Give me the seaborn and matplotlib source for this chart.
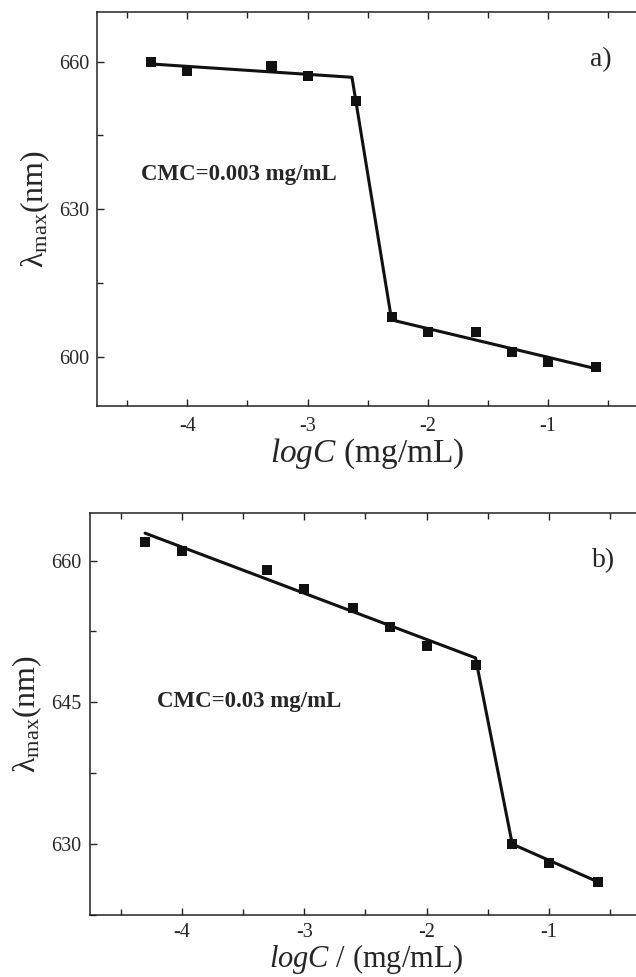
import seaborn
import pandas
import matplotlib
matplotlib.use('Agg')
import matplotlib.pyplot as pyplt
from matplotlib.ticker import MultipleLocator

# measured points (log10 of concentration in mg/mL)
log_c = [-4.30, -4.00, -3.30, -3.00, -2.60, -2.30, -2.00, -1.60, -1.30, -1.00, -0.60]
lambda_a = [660.0, 658.0, 659.0, 657.0, 652.0, 608.0, 605.0, 605.0, 601.0, 599.0, 598.0]
lambda_b = [662.0, 661.0, 659.0, 657.0, 655.0, 653.0, 651.0, 649.0, 630.0, 628.0, 626.0]

# fitted broken lines (knots)
fit_x_a = [-4.30, -2.63, -2.30, -0.60]
fit_y_a = [659.5, 656.8, 607.5, 597.6]
fit_x_b = [-4.30, -1.60, -1.30, -0.60]
fit_y_b = [662.9, 649.7, 630.0, 626.0]

panels = [
    dict(y=lambda_a, fx=fit_x_a, fy=fit_y_a, ylim=(590, 670), major=30, minor=15,
         tag='a)', tag_y=660.3, cmc='CMC=0.003 mg/mL', cmc_xy=(-4.385, 637.0),
         xlabel=r'$\mathit{logC}$ (mg/mL)', xl_size=24, xl_pad=0, x_pad=8,
         pos=[0.1531, 0.5844, 0.8497, 0.4030]),
    dict(y=lambda_b, fx=fit_x_b, fy=fit_y_b, ylim=(622.5, 665), major=15, minor=7.5,
         tag='b)', tag_y=660.0, cmc='CMC=0.03 mg/mL', cmc_xy=(-4.20, 645.1),
         xlabel=r'$\mathit{logC}$ / (mg/mL)', xl_size=22, xl_pad=0, x_pad=6,
         pos=[0.1415, 0.0635, 0.8660, 0.4111]),
]

seaborn.set_theme(style='ticks')
pyplt.rcParams['font.family'] = ['Liberation Serif', 'DejaVu Serif']
pyplt.rcParams['mathtext.fontset'] = 'custom'
pyplt.rcParams['mathtext.rm'] = 'Liberation Serif'
pyplt.rcParams['mathtext.it'] = 'Liberation Serif:italic'
pyplt.rcParams['mathtext.bf'] = 'Liberation Serif:bold'

fig = pyplt.figure(figsize=(6.36, 9.77), dpi=100)

for p in panels:
    ax = fig.add_axes(p['pos'])
    data = pandas.DataFrame({'logC': log_c, 'lam': p['y']})
    fit = pandas.DataFrame({'logC': p['fx'], 'lam': p['fy']})
    seaborn.lineplot(x='logC', y='lam', data=fit, sort=False, color='#111111',
                     linewidth=2.2, ax=ax, zorder=2)
    seaborn.scatterplot(x='logC', y='lam', data=data, marker='s', s=52,
                        color='#111111', edgecolor='none', ax=ax, zorder=3)
    ax.set_xlim(-4.75, -0.25)
    ax.set_ylim(*p['ylim'])
    ax.xaxis.set_major_locator(MultipleLocator(1))
    ax.xaxis.set_minor_locator(MultipleLocator(0.5))
    ax.yaxis.set_major_locator(MultipleLocator(p['major']))
    ax.yaxis.set_minor_locator(MultipleLocator(p['minor']))
    ax.xaxis.set_major_formatter(matplotlib.ticker.FuncFormatter(lambda v, _: f'{v:.0f}'))
    ax.tick_params(which='both', direction='in', top=True, right=False,
                   labelsize=14.5, width=1, color='#222222')
    ax.tick_params(which='major', length=5)
    ax.tick_params(which='minor', length=4.5)
    ax.tick_params(axis='x', pad=p['x_pad'])
    ax.tick_params(axis='y', pad=6)
    for s in ax.spines.values():
        s.set_linewidth(1.1)
        s.set_color('#222222')
    ax.set_xlabel(p['xlabel'], fontsize=p['xl_size'], labelpad=p['xl_pad'])
    ax.set_ylabel(r'$\mathrm{\lambda}_{\mathrm{max}}$(nm)', fontsize=23, labelpad=5)
    ax.text(-0.645, p['tag_y'], p['tag'], fontsize=20, va='center', ha='left')
    ax.text(p['cmc_xy'][0], p['cmc_xy'][1], p['cmc'], fontsize=16.5,
            fontweight='bold', va='center', ha='left')

fig.savefig('out.png', dpi=100)
